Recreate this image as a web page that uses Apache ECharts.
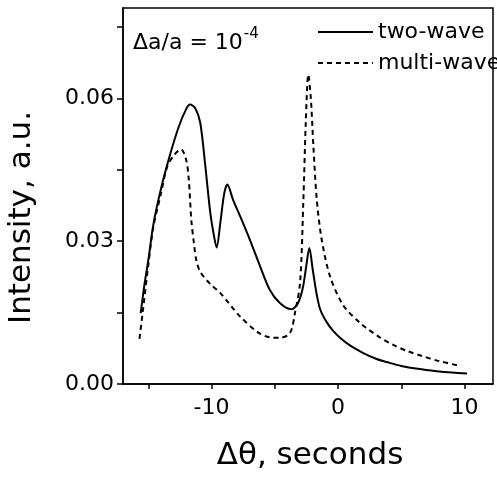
<!DOCTYPE html>
<html>
<head>
<meta charset="utf-8">
<script src="https://cdn.jsdelivr.net/npm/echarts@6/dist/echarts.min.js"></script>
<style>
  html, body { margin: 0; padding: 0; background: #fff; }
  #chart { width: 497px; height: 478px; }
</style>
</head>
<body>
<div id="chart"></div>
<script>
const twoWaveX = [-15.6, -15.3, -15.0, -14.6, -14.0, -13.3, -12.6, -12.0, -11.7, -11.3, -10.9, -10.5, -10.1, -9.8, -9.6, -9.3, -9.0, -8.75, -8.3, -7.7, -7.0, -6.2, -5.4, -4.6, -3.7, -3.2, -2.8, -2.5, -2.27, -2.0, -1.7, -1.4, -0.9, -0.4, 0.2, 1.0, 2.0, 3.0, 4.0, 5.0, 6.3, 7.8, 9.0, 10.2];
const twoWaveY = [0.0149, 0.021, 0.026, 0.0335, 0.041, 0.048, 0.054, 0.0578, 0.0587, 0.058, 0.055, 0.046, 0.036, 0.031, 0.0287, 0.034, 0.040, 0.0419, 0.0387, 0.035, 0.0305, 0.025, 0.0198, 0.017, 0.0157, 0.0168, 0.020, 0.025, 0.0286, 0.024, 0.019, 0.0156, 0.0130, 0.0112, 0.0096, 0.0080, 0.0065, 0.0053, 0.0045, 0.0038, 0.0032, 0.0027, 0.0024, 0.0022];

const multiWaveX = [-15.7, -15.4, -15.0, -14.6, -14.0, -13.5, -12.9, -12.4, -12.0, -11.8, -11.6, -11.4, -11.2, -10.9, -10.1, -9.3, -7.75, -6.3, -5.4, -4.6, -3.8, -3.4, -3.0, -2.74, -2.55, -2.35, -2.15, -1.95, -1.68, -1.29, -0.63, 0.42, 1.74, 2.27, 3.3, 4.37, 5.5, 6.74, 8.0, 9.5];
const multiWaveY = [0.0095, 0.016, 0.025, 0.033, 0.040, 0.0457, 0.0483, 0.0493, 0.047, 0.043, 0.0345, 0.0297, 0.026, 0.0236, 0.021, 0.0191, 0.0142, 0.0108, 0.0098, 0.0097, 0.0107, 0.015, 0.0213, 0.0387, 0.055, 0.065, 0.060, 0.050, 0.0387, 0.0303, 0.0226, 0.0165, 0.0128, 0.0117, 0.0098, 0.0082, 0.0069, 0.0058, 0.0048, 0.0039];

const xTicks = [-15, -10, -5, 0, 5, 10];
const xLabels = [-10, 0, 10];
const yTicks = [0, 0.015, 0.03, 0.045, 0.06, 0.075];
const yLabels = [0, 0.03, 0.06];

const zip = (xs, ys) => xs.map((x, i) => [x, ys[i]]);
const font = 'DejaVu Sans, sans-serif';

const chart = echarts.init(document.getElementById('chart'));
chart.setOption({
    animation: false,
    grid: {
        left: 123, top: 8, right: 4, bottom: 94,
        outerBoundsMode: 'none',
        show: true, borderColor: '#000', borderWidth: 1.5
    },
    legend: {
        orient: 'vertical',
        left: 312, top: 16,
        itemWidth: 55, itemHeight: 14, itemGap: 9,
        itemStyle: { opacity: 0 },
        textStyle: { fontFamily: font, fontSize: 22, color: '#000', padding: [0, 0, 0, 0] },
        data: ['two-wave', 'multi-wave']
    },
    graphic: [{
        type: 'text',
        left: 133, top: 27,
        style: {
            text: '{a|Δa/a = 10}{s|-4}',
            rich: {
                a: { fontFamily: font, fontSize: 22, fill: '#000', verticalAlign: 'bottom' },
                s: { fontFamily: font, fontSize: 15, fill: '#000', verticalAlign: 'top', padding: [0, 0, 12, 1] }
            }
        }
    }, {
        // x axis title, placed by hand (axis name got clipped)
        type: 'text',
        x: 310, y: 456,
        style: {
            text: 'Δθ, seconds',
            fontFamily: font, fontSize: 31, fill: '#000',
            align: 'center', verticalAlign: 'middle'
        }
    }],
    xAxis: {
        type: 'value',
        min: -17, max: 12.25,
        splitLine: { show: false },
        axisLine: { onZero: false, lineStyle: { color: '#000', width: 1.5 } },
        axisTick: { customValues: xTicks, length: 5, lineStyle: { color: '#000', width: 1.5 } },
        axisLabel: { customValues: xLabels, margin: 13, fontFamily: font, fontSize: 22, color: '#000' }
    },
    yAxis: {
        type: 'value',
        min: 0, max: 0.079,
        name: 'Intensity, a.u.',
        nameLocation: 'middle',
        nameGap: 86,
        nameMoveOverlap: false,
        nameTextStyle: { fontFamily: font, fontSize: 31, color: '#000', padding: [0, 43, 0, 0] },
        splitLine: { show: false },
        axisLine: { onZero: false, lineStyle: { color: '#000', width: 1.5 } },
        axisTick: { customValues: yTicks, length: 6, lineStyle: { color: '#000', width: 1.5 } },
        axisLabel: {
            customValues: yLabels, margin: 9, fontFamily: font, fontSize: 22, color: '#000',
            formatter: v => v.toFixed(2)
        }
    },
    series: [{
        name: 'two-wave',
        type: 'line',
        smooth: 0.3,
        symbol: 'none',
        lineStyle: { color: '#000', width: 2 },
        itemStyle: { color: '#000' },
        data: zip(twoWaveX, twoWaveY)
    }, {
        name: 'multi-wave',
        type: 'line',
        smooth: 0.3,
        symbol: 'none',
        lineStyle: { color: '#000', width: 2, type: [5, 4] },
        itemStyle: { color: '#000' },
        data: zip(multiWaveX, multiWaveY)
    }]
});
</script>
</body>
</html>
